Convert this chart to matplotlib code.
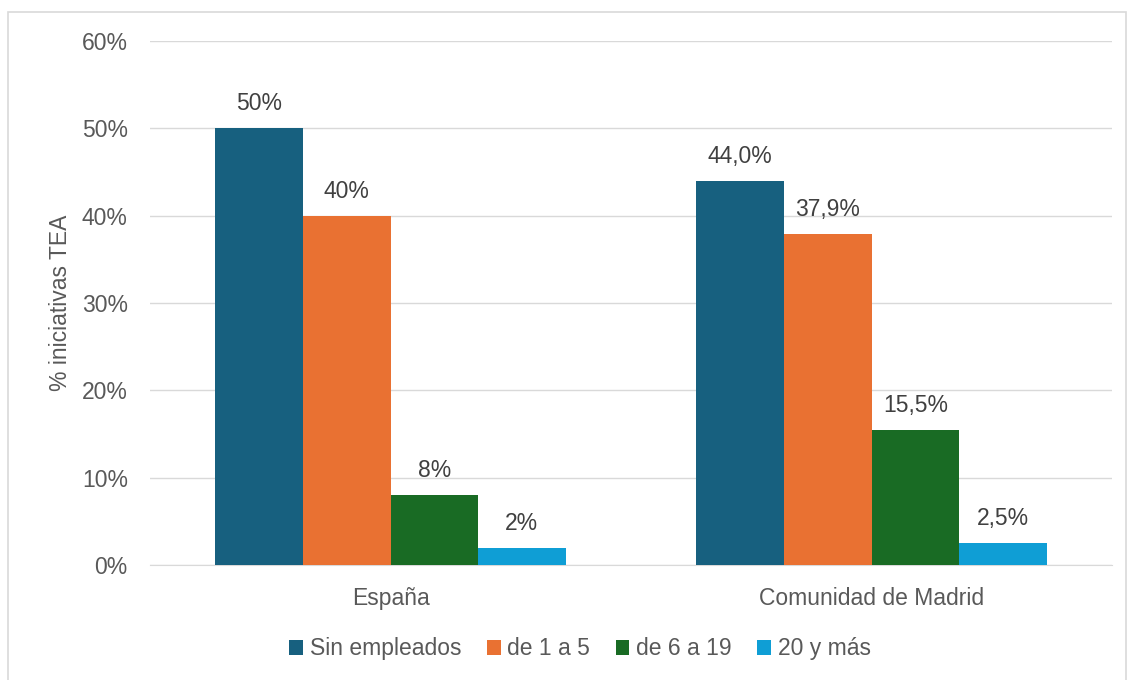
import matplotlib
matplotlib.use("Agg")
import matplotlib.pyplot as plt
from matplotlib.patches import Rectangle
import numpy as np

plt.rcParams['font.family'] = ['Liberation Sans', 'DejaVu Sans']

# data
categories = ['España', 'Comunidad de Madrid']
series = ['Sin empleados', 'de 1 a 5', 'de 6 a 19', '20 y más']
values = [
    [50, 44.0],
    [40, 37.9],
    [8, 15.5],
    [2, 2.5],
]
labels = [
    ['50%', '44,0%'],
    ['40%', '37,9%'],
    ['8%', '15,5%'],
    ['2%', '2,5%'],
]
colors = ['#17607f', '#e97132', '#196b24', '#0f9ed5']
yticks = [0, 10, 20, 30, 40, 50, 60]

text_color = '#595959'
label_color = '#404040'
fs = 16.5

fig = plt.figure(figsize=(11.34, 6.8), dpi=100)
ax = fig.add_axes([0.1323, 0.169, 0.8483, 0.7707])

# outer border of the chart
fig.patches.append(Rectangle((8 / 1134, -0.05), 1118 / 1134, 1.05 - 12 / 680,
                             transform=fig.transFigure, fill=False,
                             edgecolor='#d9d9d9', linewidth=1.2))

x = np.arange(len(categories))
width = 0.182
for i, (name, vals) in enumerate(zip(series, values)):
    pos = x + (i - 1.5) * width
    bars = ax.bar(pos, vals, width, color=colors[i], label=name, zorder=3)
    for b, lab in zip(bars, labels[i]):
        ax.text(b.get_x() + b.get_width() / 2, b.get_height() + 1.5, lab,
                ha='center', va='bottom', fontsize=fs, color=label_color)

ax.set_xlim(-0.5, 1.5)
ax.set_ylim(0, 60)
ax.set_yticks(yticks)
ax.set_yticklabels([f'{t}%' for t in yticks])
ax.set_xticks(x)
ax.set_xticklabels(categories)
ax.tick_params(axis='both', length=0, labelsize=fs, labelcolor=text_color)
ax.tick_params(axis='y', pad=16)
ax.tick_params(axis='x', pad=16)
ax.grid(axis='y', color='#d9d9d9', linewidth=1, zorder=0)
for s in ['top', 'right', 'left']:
    ax.spines[s].set_visible(False)
ax.spines['bottom'].set_color('#d9d9d9')

ax.set_ylabel('% iniciativas TEA', fontsize=fs, color=text_color, labelpad=7)

ax.legend(loc='center', bbox_to_anchor=(0.447, -0.16), ncol=4, frameon=False,
          fontsize=fs, labelcolor=text_color, handlelength=0.6, handleheight=0.6,
          handletextpad=0.3, columnspacing=1.1)

fig.savefig('out.png', dpi=100)
